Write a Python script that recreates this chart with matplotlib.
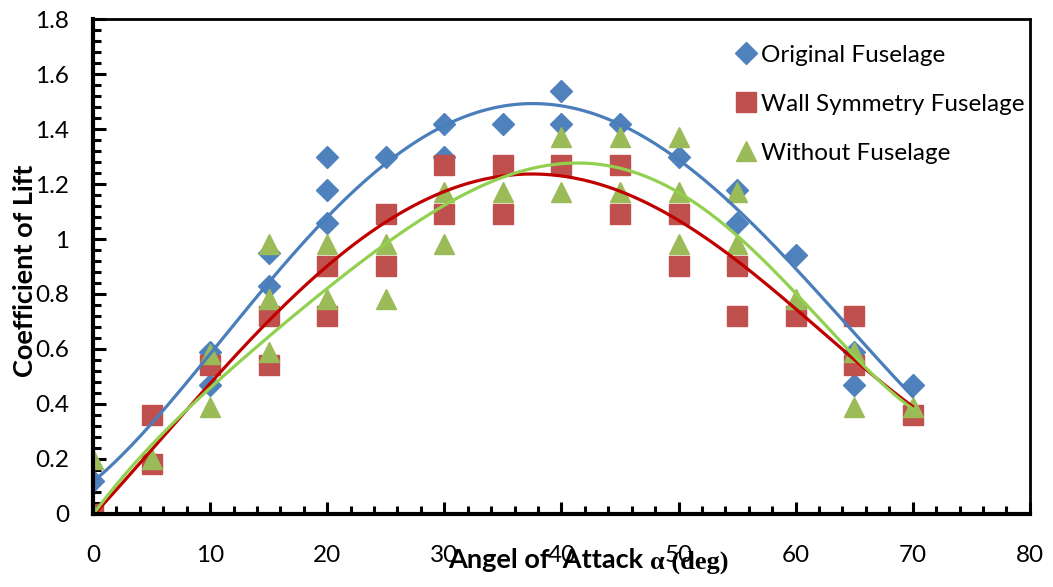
import numpy as np
import matplotlib
matplotlib.use("Agg")
import matplotlib.pyplot as plt
from matplotlib.ticker import MultipleLocator, FuncFormatter
from matplotlib.lines import Line2D

# ---- data ----
orig_x = [0, 10, 10, 15, 15, 20, 20, 20, 25, 30, 30, 35, 40, 40, 45, 50, 55, 55, 60, 65, 65, 70]
orig_y = [0.12, 0.59, 0.47, 0.83, 0.95, 1.30, 1.18, 1.06, 1.30, 1.42, 1.30, 1.42, 1.54, 1.42,
          1.42, 1.30, 1.18, 1.06, 0.94, 0.59, 0.47, 0.47]

wall_x = [0, 5, 5, 10, 15, 15, 20, 20, 25, 25, 30, 30, 35, 35, 40, 45, 45, 50, 50, 55, 55, 60, 65, 65, 70]
wall_y = [0.0, 0.36, 0.18, 0.54, 0.72, 0.54, 0.90, 0.72, 1.09, 0.90, 1.27, 1.09, 1.27, 1.09,
          1.27, 1.27, 1.09, 1.09, 0.90, 0.90, 0.72, 0.72, 0.72, 0.54, 0.36]

without_x = [0, 0, 5, 10, 10, 15, 15, 15, 20, 20, 25, 25, 30, 30, 35, 40, 40, 45, 45, 50, 50, 50,
             55, 55, 60, 65, 65, 70]
without_y = [0.20, 0.0, 0.20, 0.58, 0.39, 0.98, 0.78, 0.59, 0.98, 0.78, 0.98, 0.78, 1.17, 0.98,
             1.17, 1.37, 1.17, 1.37, 1.17, 1.37, 1.17, 0.98, 1.17, 0.98, 0.78, 0.59, 0.39, 0.39]

# trend lines at these angles
trend_x = [0, 5, 10, 15, 20, 25, 30, 35, 40, 45, 50, 55, 60, 65, 70]
trend_orig = [0.12, 0.32, 0.59, 0.84, 1.07, 1.29, 1.415, 1.47, 1.48, 1.42, 1.30, 1.10, 0.90, 0.65, 0.43]
trend_wall = [0.0, 0.22, 0.48, 0.70, 0.91, 1.06, 1.18, 1.225, 1.215, 1.165, 1.085, 0.93, 0.75, 0.54, 0.40]
trend_without = [0.0, 0.245, 0.46, 0.65, 0.815, 0.98, 1.135, 1.22, 1.27, 1.245, 1.185, 1.015, 0.80, 0.57, 0.385]

labels = ["Original Fuselage", "Wall Symmetry Fuselage", "Without Fuselage"]
x_ticks = [0, 10, 20, 30, 40, 50, 60, 70, 80]

# ---- styles ----
c_blue, c_red, c_green = "#4F81BD", "#C0504D", "#9BBB59"
l_blue, l_red, l_green = "#4A7EBB", "#C00000", "#92D050"
FONT = "Lato"

fig = plt.figure(figsize=(10.53, 5.87), dpi=100)
ax = fig.add_axes([0.0883, 0.1244, 0.8897, 0.8432])

ax.plot(orig_x, orig_y, linestyle="none", marker="D", ms=11, color=c_blue, zorder=3)
ax.plot(wall_x, wall_y, linestyle="none", marker="s", ms=14.5, color=c_red, zorder=4)
ax.plot(without_x, without_y, linestyle="none", marker="^", ms=15, color=c_green, zorder=5)

xx = np.linspace(0, 70, 300)
for vals, col in [(trend_orig, l_blue), (trend_wall, l_red), (trend_without, l_green)]:
    p = np.polyfit(trend_x, vals, 5)
    ax.plot(xx, np.polyval(p, xx), color=col, lw=2.3, zorder=6, solid_capstyle="round")

ax.set_xlim(0, 80)
ax.set_ylim(0, 1.8)
ax.set_xticks(x_ticks)
ax.xaxis.set_minor_locator(MultipleLocator(2))
ax.yaxis.set_major_locator(MultipleLocator(0.2))
ax.yaxis.set_minor_locator(MultipleLocator(0.04))
ax.yaxis.set_major_formatter(FuncFormatter(lambda v, p: ("%g" % round(v, 2))))

ax.tick_params(axis="both", which="major", direction="in", length=9, width=2.2,
               labelsize=17.5, colors="black")
ax.tick_params(axis="both", which="minor", direction="in", length=5.5, width=2.2)
ax.tick_params(axis="x", which="major", pad=22)
ax.tick_params(axis="y", which="major", pad=17)
for lab in ax.get_xticklabels() + ax.get_yticklabels():
    lab.set_fontfamily(FONT)

for side in ["left", "bottom"]:
    ax.spines[side].set_linewidth(3)
for side in ["top", "right"]:
    ax.spines[side].set_linewidth(2)
for s in ax.spines.values():
    s.set_zorder(7)
    s.set_clip_on(False)

# axis labels
fig.text(0.024, 0.538, "Coefficient of Lift", rotation=90, ha="center", va="center",
         fontsize=19.5, fontweight="bold", fontfamily=FONT)
fig.text(0.6175, 0.032, "Angel of  Attack ", ha="right", va="baseline",
         fontsize=19.5, fontweight="bold", fontfamily=FONT)
fig.text(0.6175, 0.032, "α (deg)", ha="left", va="baseline",
         fontsize=19, fontweight="bold", fontfamily="Liberation Serif")

handles = [
    Line2D([], [], linestyle="none", marker="D", ms=11, color=c_blue),
    Line2D([], [], linestyle="none", marker="s", ms=14.5, color=c_red),
    Line2D([], [], linestyle="none", marker="^", ms=15, color=c_green),
]
leg = ax.legend(handles, labels, loc="upper left", bbox_to_anchor=(0.675, 0.968),
                frameon=False, handlelength=0.9, handletextpad=0.15, labelspacing=1.15,
                prop={"family": FONT, "size": 17.5}, borderaxespad=0)

fig.savefig("out.png", dpi=100)
